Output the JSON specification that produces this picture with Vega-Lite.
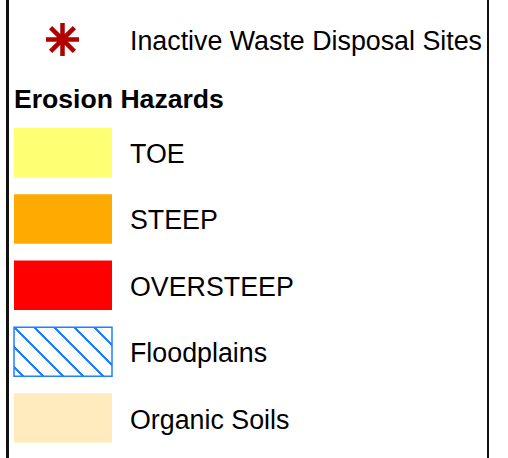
{
  "$schema": "https://vega.github.io/schema/vega-lite/v6.json",
  "width": 508,
  "height": 458,
  "autosize": {"type": "none"},
  "padding": 0,
  "background": "white",
  "config": {"view": {"stroke": null}, "font": "Liberation Sans"},
  "data": {
    "values": [
      {"item": "waste", "label": "Inactive Waste Disposal Sites", "kind": "symbol"},
      {"item": "header", "label": "Erosion Hazards", "kind": "header"},
      {"item": "TOE", "label": "TOE", "kind": "swatch"},
      {"item": "STEEP", "label": "STEEP", "kind": "swatch"},
      {"item": "OVERSTEEP", "label": "OVERSTEEP", "kind": "swatch"},
      {"item": "Floodplains", "label": "Floodplains", "kind": "hatch"},
      {"item": "Organic Soils", "label": "Organic Soils", "kind": "swatch"}
    ]
  },
  "resolve": {"scale": {"y": "independent"}},
  "layer": [
    {
      "data": {"values": [{"side": "left"}]},
      "mark": {"type": "rule", "color": "#111111", "strokeWidth": 3},
      "encoding": {"x": {"value": 7.5}, "y": {"value": 0}, "y2": {"value": 458}}
    },
    {
      "data": {"values": [{"side": "right"}]},
      "mark": {"type": "rule", "color": "#111111", "strokeWidth": 2},
      "encoding": {"x": {"value": 488}, "y": {"value": 0}, "y2": {"value": 458}}
    },
    {
      "transform": [{"filter": "datum.kind === 'swatch'"}],
      "mark": {"type": "rect", "height": 49.5},
      "encoding": {
        "y": {"field": "item", "type": "nominal", "sort": null, "axis": null,
              "scale": {"type": "point", "padding": 0, "domain": ["TOE", "STEEP", "OVERSTEEP", "Floodplains", "Organic Soils"], "range": [152.5, 418]}},
        "x": {"value": 14},
        "x2": {"value": 112},
        "fill": {"field": "item", "type": "nominal", "legend": null,
                 "scale": {"domain": ["TOE", "STEEP", "OVERSTEEP", "Organic Soils"], "range": ["#FFFF73", "#FFAA00", "#FF0000", "#FFEBBE"]}}
      }
    },
    {
      "transform": [{"filter": "datum.kind === 'hatch'"}],
      "mark": {
        "type": "rect",
        "height": 49,
        "stroke": "#1F7FFF",
        "strokeWidth": 1.5,
        "fill": {
          "gradient": "linear",
          "x1": 0, "y1": 1, "x2": 1.2, "y2": 0.4,
          "stops": [
            {"offset": 0, "color": "#ffffff"},
            {"offset": 0.0517, "color": "#ffffff"}, {"offset": 0.0517, "color": "#1F7FFF"}, {"offset": 0.0707, "color": "#1F7FFF"}, {"offset": 0.0707, "color": "#ffffff"},
            {"offset": 0.1878, "color": "#ffffff"}, {"offset": 0.1878, "color": "#1F7FFF"}, {"offset": 0.2068, "color": "#1F7FFF"}, {"offset": 0.2068, "color": "#ffffff"},
            {"offset": 0.3238, "color": "#ffffff"}, {"offset": 0.3238, "color": "#1F7FFF"}, {"offset": 0.3428, "color": "#1F7FFF"}, {"offset": 0.3428, "color": "#ffffff"},
            {"offset": 0.4599, "color": "#ffffff"}, {"offset": 0.4599, "color": "#1F7FFF"}, {"offset": 0.4789, "color": "#1F7FFF"}, {"offset": 0.4789, "color": "#ffffff"},
            {"offset": 0.5959, "color": "#ffffff"}, {"offset": 0.5959, "color": "#1F7FFF"}, {"offset": 0.6149, "color": "#1F7FFF"}, {"offset": 0.6149, "color": "#ffffff"},
            {"offset": 0.7320, "color": "#ffffff"}, {"offset": 0.7320, "color": "#1F7FFF"}, {"offset": 0.7510, "color": "#1F7FFF"}, {"offset": 0.7510, "color": "#ffffff"},
            {"offset": 0.8681, "color": "#ffffff"}, {"offset": 0.8681, "color": "#1F7FFF"}, {"offset": 0.8871, "color": "#1F7FFF"}, {"offset": 0.8871, "color": "#ffffff"},
            {"offset": 1, "color": "#ffffff"}
          ]
        }
      },
      "encoding": {
        "y": {"field": "item", "type": "nominal", "sort": null, "axis": null,
              "scale": {"type": "point", "padding": 0, "domain": ["TOE", "STEEP", "OVERSTEEP", "Floodplains", "Organic Soils"], "range": [152.5, 418]}},
        "x": {"value": 14},
        "x2": {"value": 112}
      }
    },
    {
      "transform": [{"filter": "datum.kind === 'swatch' || datum.kind === 'hatch'"}],
      "mark": {"type": "text", "align": "left", "baseline": "alphabetic", "dy": 10.5, "fontSize": 26.8, "color": "#000000"},
      "encoding": {
        "y": {"field": "item", "type": "nominal", "sort": null, "axis": null,
              "scale": {"type": "point", "padding": 0, "domain": ["TOE", "STEEP", "OVERSTEEP", "Floodplains", "Organic Soils"], "range": [152.5, 418]}},
        "x": {"value": 130},
        "text": {"field": "label"}
      }
    },
    {
      "transform": [{"filter": "datum.kind === 'symbol'"}],
      "mark": {
        "type": "point",
        "shape": "M0,-1L0,1M-1,0L1,0M-0.72,-0.72L0.72,0.72M-0.72,0.72L0.72,-0.72",
        "size": 1089,
        "filled": false,
        "stroke": "#B00000",
        "strokeWidth": 4.5,
        "opacity": 1
      },
      "encoding": {
        "y": {"field": "item", "type": "nominal", "sort": null, "axis": null,
              "scale": {"type": "point", "padding": 0, "domain": ["waste", "header"], "range": [39.5, 97.5]}},
        "x": {"value": 62.5}
      }
    },
    {
      "transform": [{"filter": "datum.kind === 'symbol'"}],
      "mark": {"type": "text", "align": "left", "baseline": "alphabetic", "dy": 10.5, "fontSize": 26.8, "color": "#000000"},
      "encoding": {
        "y": {"field": "item", "type": "nominal", "sort": null, "axis": null,
              "scale": {"type": "point", "padding": 0, "domain": ["waste", "header"], "range": [39.5, 97.5]}},
        "x": {"value": 130},
        "text": {"field": "label"}
      }
    },
    {
      "transform": [{"filter": "datum.kind === 'header'"}],
      "mark": {"type": "text", "align": "left", "baseline": "alphabetic", "dy": 10.5, "fontSize": 26.6, "fontWeight": "bold", "color": "#000000"},
      "encoding": {
        "y": {"field": "item", "type": "nominal", "sort": null, "axis": null,
              "scale": {"type": "point", "padding": 0, "domain": ["waste", "header"], "range": [39.5, 97.5]}},
        "x": {"value": 14},
        "text": {"field": "label"}
      }
    }
  ]
}
